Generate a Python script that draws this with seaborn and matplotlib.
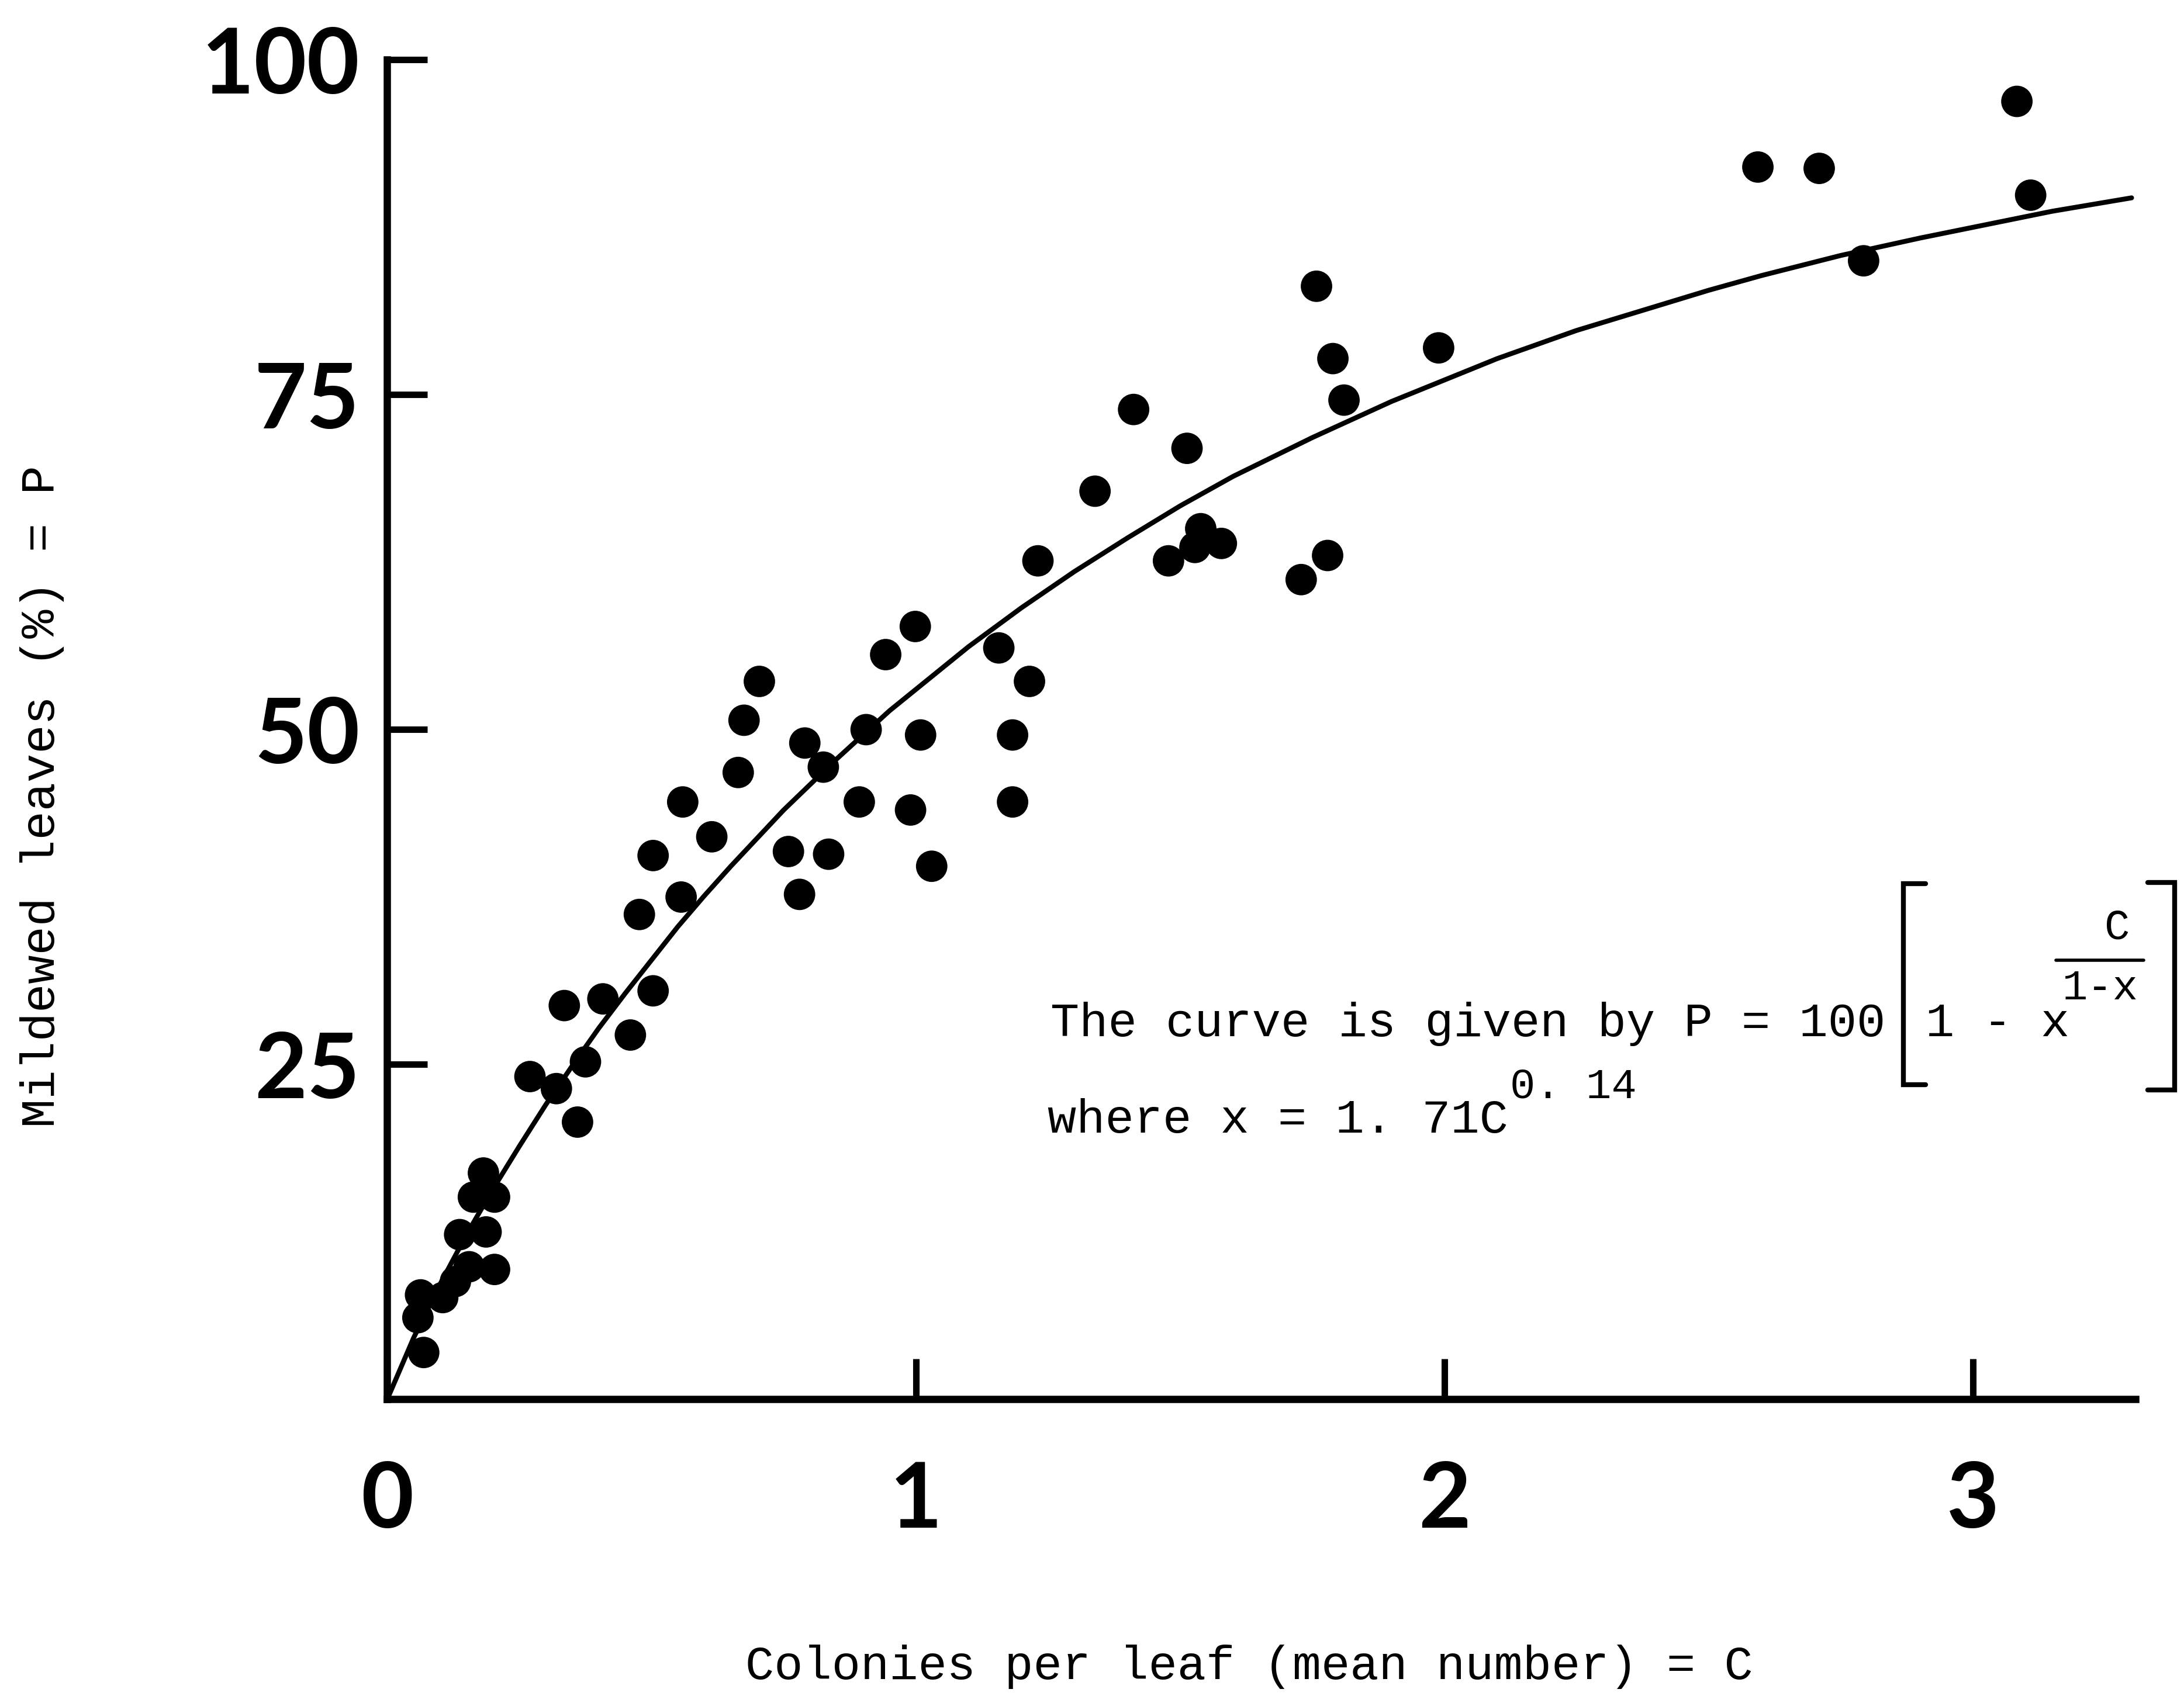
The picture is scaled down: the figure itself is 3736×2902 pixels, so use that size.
import numpy as np
import pandas as pd
import matplotlib
matplotlib.use("Agg")
import matplotlib.pyplot as plt
import seaborn as sns
from matplotlib.lines import Line2D

# observed points: colonies per leaf (C) and % mildewed leaves (P)
colonies = [0.069, 0.058, 0.063, 0.105, 0.129, 0.137, 0.155, 0.163, 0.182, 0.187,
            0.203, 0.203, 0.27, 0.32, 0.36, 0.375, 0.46, 0.335, 0.408, 0.503,
            0.477, 0.503, 0.556, 0.559, 0.614, 0.664, 0.675, 0.704, 0.759, 0.78,
            0.79, 0.825, 0.835, 0.893, 0.906, 0.943, 0.99, 0.999, 1.009, 1.030,
            1.157, 1.183, 1.183, 1.215, 1.231, 1.339, 1.412, 1.478, 1.513, 1.528,
            1.539, 1.578, 1.729, 1.758, 1.779, 1.789, 1.810, 1.989, 2.593, 2.709,
            2.793, 3.083, 3.109]
mildewed = [3.5, 6.1, 7.8, 7.6, 8.8, 12.3, 9.9, 15.1, 16.9, 12.5,
            15.1, 9.7, 24.1, 23.2, 20.7, 25.2, 27.2, 29.4, 29.9, 30.5,
            36.2, 40.6, 37.5, 44.6, 42.0, 46.8, 50.7, 53.6, 40.9, 37.7,
            49.0, 47.2, 40.7, 44.6, 50.0, 55.6, 44.0, 57.7, 49.6, 39.8,
            56.1, 49.6, 44.6, 53.6, 62.6, 67.8, 73.9, 62.6, 71.0, 63.6,
            65.0, 63.9, 61.2, 83.1, 63.0, 77.7, 74.6, 78.5, 92.0, 91.9,
            85.0, 96.9, 89.9]

# fitted curve as drawn in the figure
curve_c = [0, 0.05, 0.1, 0.15, 0.2, 0.25, 0.3, 0.35, 0.4, 0.45, 0.5, 0.55, 0.6,
           0.65, 0.7, 0.75, 0.8, 0.85, 0.9, 0.95, 1.0, 1.1, 1.2, 1.3, 1.4, 1.5,
           1.6, 1.75, 1.9, 2.0, 2.1, 2.25, 2.4, 2.5, 2.6, 2.75, 2.9, 3.0, 3.15, 3.3]
curve_p = [0, 4.6, 8.6, 12.3, 15.7, 18.9, 22.0, 24.9, 27.7, 30.3, 32.8, 35.3, 37.6,
           39.8, 41.9, 44.0, 45.9, 47.8, 49.6, 51.4, 53.0, 56.2, 59.1, 61.8, 64.3, 66.7,
           68.9, 71.8, 74.5, 76.1, 77.7, 79.8, 81.6, 82.8, 83.9, 85.4, 86.7, 87.5, 88.7, 89.7]

x_ticks = [0, 1, 2, 3]
y_ticks = [25, 50, 75, 100]

sns.set_style("ticks")
plt.rcParams["font.family"] = ["Liberation Mono", "DejaVu Sans"]
plt.rcParams["text.color"] = "black"
plt.rcParams["axes.labelcolor"] = "black"
plt.rcParams["xtick.color"] = "black"
plt.rcParams["ytick.color"] = "black"

points = pd.DataFrame({"C": colonies, "P": mildewed})
curve = pd.DataFrame({"C": curve_c, "P": curve_p})

fig = plt.figure(figsize=(37.36, 29.02), dpi=100)
ax = fig.add_axes([0.1773, 0.1749, 0.8004, 0.7898])

sns.lineplot(data=curve, x="C", y="P", color="black", linewidth=6, ax=ax)
sns.scatterplot(data=points, x="C", y="P", color="black", s=1500,
                edgecolor="none", zorder=3, clip_on=False, ax=ax)

ax.set_xlim(0, 3.307)
ax.set_ylim(0, 100)
ax.set_xticks(x_ticks)
ax.set_yticks(y_ticks)
ax.set_xticklabels([str(t) for t in x_ticks], family="Lato", fontsize=112, fontweight="bold")
ax.set_yticklabels([str(t) for t in y_ticks], family="Lato", fontsize=112, fontweight="bold")
ax.tick_params(direction="in", length=50, width=8, color="black",
               left=True, bottom=True, labelcolor="black")
ax.tick_params(axis="x", pad=75)
ax.tick_params(axis="y", pad=34)

for s in ["top", "right"]:
    ax.spines[s].set_visible(False)
for s in ["left", "bottom"]:
    ax.spines[s].set_linewidth(9)
    ax.spines[s].set_color("black")

ax.set_xlabel("Colonies per leaf (mean number) = C", fontsize=59, va="center")
ax.xaxis.set_label_coords(0.493, -0.1996)
ax.set_ylabel("Mildewed leaves (%) = P", fontsize=59, va="center")
ax.yaxis.set_label_coords(-0.1976, 0.45)

# formula annotation
ax.text(1.255, 27.1, "The curve is given by P = 100", fontsize=59, va="baseline")
ax.text(2.91, 27.1, "1 - x", fontsize=59, va="baseline")
ax.text(3.273, 35.2, "C", fontsize=52, ha="center", va="center")
ax.text(3.241, 30.7, "1-x", fontsize=52, ha="center", va="center")
ax.text(1.249, 19.9, "where x = 1. 71C", fontsize=59, va="baseline")
ax.text(2.124, 22.5, "0. 14", fontsize=52, va="baseline")

# brackets and fraction bar
ax.add_line(Line2D([2.91, 2.868, 2.868, 2.91], [38.5, 38.5, 23.5, 23.5],
                   color="black", lw=6, clip_on=False, solid_joinstyle="miter"))
ax.add_line(Line2D([3.331, 3.381, 3.381, 3.331], [38.6, 38.6, 23.1, 23.1],
                   color="black", lw=6, clip_on=False, solid_joinstyle="miter"))
ax.add_line(Line2D([3.157, 3.323], [32.8, 32.8], color="black", lw=4, clip_on=False))

fig.savefig("out.png", dpi=100, facecolor="white")
